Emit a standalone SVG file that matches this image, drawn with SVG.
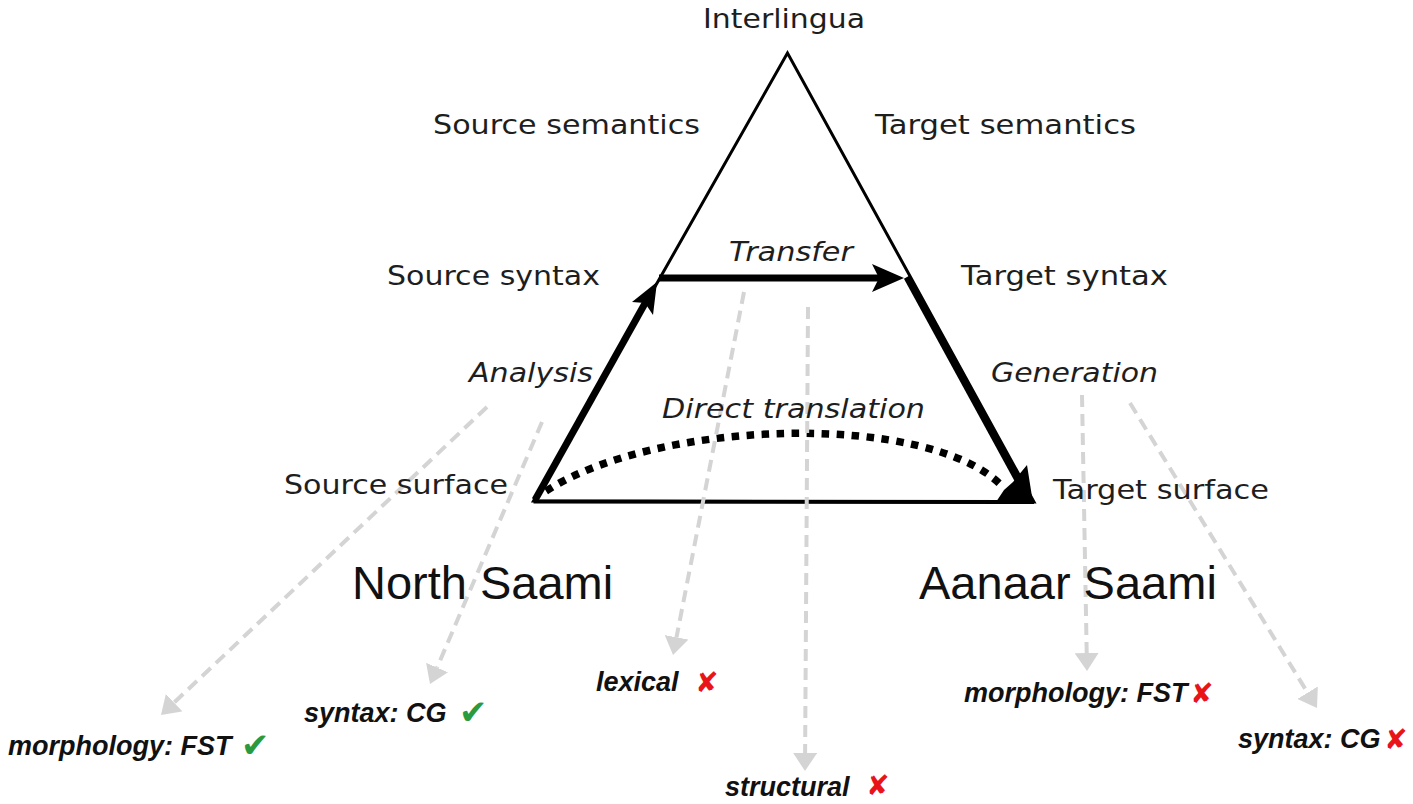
<svg xmlns="http://www.w3.org/2000/svg" width="1413" height="804" viewBox="0 0 1413 804">
  <style>
    .tri { font-family: "DejaVu Sans", sans-serif; font-size: 27px; fill: #1e1e1e; }
    .it { font-style: italic; }
    .lang { font-family: "Liberation Sans", Arial, sans-serif; font-size: 47px; fill: #111; }
    .lab { font-family: "Liberation Sans", Arial, sans-serif; font-size: 27px; font-weight: bold; font-style: italic; fill: #111; }
    .ok { font-family: "DejaVu Sans", sans-serif; font-size: 34px; fill: #2a9a3e; }
    .no { font-family: "DejaVu Sans", sans-serif; font-size: 28px; fill: #e8141a; }
    .edge { fill: none; stroke: #000; }
    .dep { fill: none; stroke: #d4d4d4; stroke-width: 4; stroke-dasharray: 12 7; marker-end: url(#grayHead); }
  </style>
  <defs>
    <marker id="grayHead" viewBox="0 0 18 24" refX="0" refY="12" markerWidth="18" markerHeight="24" markerUnits="userSpaceOnUse" orient="auto">
      <path d="M0,0 L18,12 L0,24 z" fill="#d4d4d4"/>
    </marker>
  </defs>

  <rect width="1413" height="804" fill="#fff"/>

  <!-- translation triangle -->
  <g id="triangle">
    <polygon points="787.5,53 533.5,501 1034,502" fill="none" stroke="#000" stroke-width="3"/>
    <line x1="533.5" y1="501.5" x2="1034" y2="502" stroke="#000" stroke-width="4"/>
  </g>

  <!-- stage arrows: analysis, transfer, generation, direct -->
  <g id="connectors">
    <g id="analysis-arrow">
      <line class="edge" x1="535" y1="500" x2="648" y2="298" stroke-width="7"/>
      <polygon points="657,282 653,315 645,303 632,302"/>
    </g>
    <g id="transfer-arrow">
      <line class="edge" x1="659" y1="278" x2="885" y2="278" stroke-width="7"/>
      <polygon points="904,278 872,264 879,278 872,292"/>
    </g>
    <g id="generation-arrow">
      <line class="edge" x1="907" y1="277" x2="1018" y2="480" stroke-width="7"/>
      <polygon points="1027,465 1033,503 996,502 1004,490 1013,482"/>
    </g>
    <g id="direct-arrow">
      <path class="edge" d="M 546 491 C 660 418, 930 412, 1002 486" stroke-width="7.5" stroke-dasharray="7.5 7.5"/>
    </g>

    <!-- component links -->
    <line class="dep" x1="487" y1="407" x2="174.1" y2="702.6"/>
    <line class="dep" x1="542" y1="422" x2="437.1" y2="667.5"/>
    <line class="dep" x1="744" y1="292" x2="676.5" y2="637.3"/>
    <line class="dep" x1="808" y1="307" x2="805.1" y2="753"/>
    <line class="dep" x1="1082" y1="395" x2="1086.7" y2="653"/>
    <line class="dep" x1="1130" y1="403" x2="1307.6" y2="692.7"/>
  </g>

  <!-- levels -->
  <g id="interlingua"><text class="tri" x="703" y="28" textLength="162" lengthAdjust="spacingAndGlyphs">Interlingua</text></g>
  <g id="source-semantics"><text class="tri" x="433" y="134" textLength="267" lengthAdjust="spacingAndGlyphs">Source semantics</text></g>
  <g id="target-semantics"><text class="tri" x="875" y="134" textLength="261" lengthAdjust="spacingAndGlyphs">Target semantics</text></g>
  <g id="source-syntax"><text class="tri" x="387" y="285" textLength="213" lengthAdjust="spacingAndGlyphs">Source syntax</text></g>
  <g id="target-syntax"><text class="tri" x="961" y="285" textLength="207" lengthAdjust="spacingAndGlyphs">Target syntax</text></g>
  <g id="transfer"><text class="tri it" x="729" y="261" textLength="124" lengthAdjust="spacingAndGlyphs">Transfer</text></g>
  <g id="analysis"><text class="tri it" x="469" y="382" textLength="124" lengthAdjust="spacingAndGlyphs">Analysis</text></g>
  <g id="generation"><text class="tri it" x="991" y="382" textLength="167" lengthAdjust="spacingAndGlyphs">Generation</text></g>
  <g id="direct-translation"><text class="tri it" x="662" y="418" textLength="263" lengthAdjust="spacingAndGlyphs">Direct translation</text></g>
  <g id="source-surface"><text class="tri" x="284" y="494" textLength="224" lengthAdjust="spacingAndGlyphs">Source surface</text></g>
  <g id="target-surface"><text class="tri" x="1053" y="499" textLength="216" lengthAdjust="spacingAndGlyphs">Target surface</text></g>

  <!-- languages -->
  <g id="north-saami"><text class="lang" x="352" y="599" font-size="46">North Saami</text></g>
  <g id="aanaar-saami"><text class="lang" x="919" y="599">Aanaar Saami</text></g>

  <!-- components -->
  <g id="sme-morphology">
    <text class="lab" x="8" y="755">morphology: FST</text>
    <text class="ok" x="241" y="757">✔</text>
  </g>
  <g id="sme-syntax">
    <text class="lab" x="304" y="722">syntax: CG</text>
    <text class="ok" x="459" y="724">✔</text>
  </g>
  <g id="lexical">
    <text class="lab" x="596" y="691">lexical</text>
    <text class="no" x="695" y="692">✘</text>
  </g>
  <g id="structural">
    <text class="lab" x="725" y="796">structural</text>
    <text class="no" x="866" y="795">✘</text>
  </g>
  <g id="smn-morphology">
    <text class="lab" x="964" y="702">morphology: FST</text>
    <text class="no" x="1190" y="703">✘</text>
  </g>
  <g id="smn-syntax">
    <text class="lab" x="1238" y="748">syntax: CG</text>
    <text class="no" x="1384" y="749">✘</text>
  </g>
</svg>
